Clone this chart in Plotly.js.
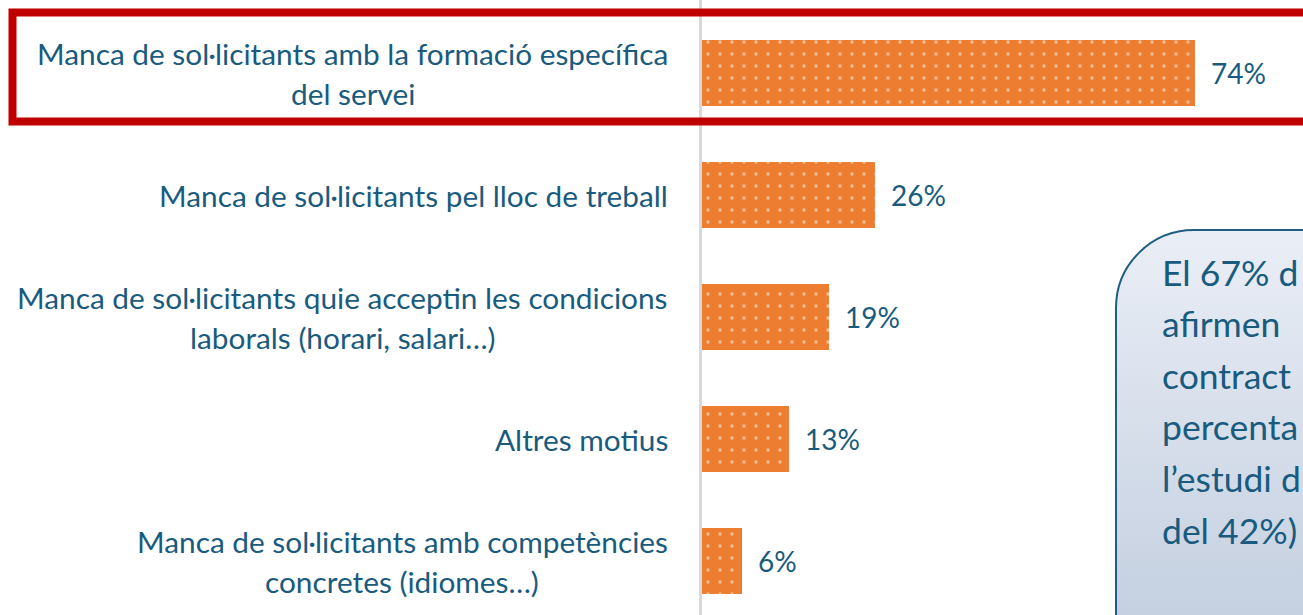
<!DOCTYPE html>
<html>
<head>
<meta charset="utf-8">
<script src="https://cdn.plot.ly/plotly-3.0.1.min.js"></script>
<style>
html,body{margin:0;padding:0;background:#fff;}
#chart{width:1303px;height:615px;}
</style>
</head>
<body>
<div id="chart"></div>
<script>
// ---- data ----
const categories = [
  "Manca de sol·licitants amb la formació específica<br>del servei",
  "Manca de sol·licitants pel lloc de treball",
  "Manca de sol·licitants quie acceptin les condicions<br>laborals (horari, salari…)",
  "Altres motius",
  "Manca de sol·licitants amb competències<br>concretes (idiomes…)"
];
const values = [74, 26, 19, 13, 6];
const valueLabels = ["74%", "26%", "19%", "13%", "6%"];
const calloutLines = ["El 67% d", "afirmen", "contract", "percenta", "l’estudi d", "del 42%)"];

// ---- style ----
const W = 1303, H = 615;
const axisPx = 702;          // plot left edge (x = 0)
const pxPerUnit = 6.66;      // px per percentage point
const catPx = 122;           // px per category
const firstCatPx = 73;       // centre of first bar
const TEXT = "#195B7E";
const FONT = "Lato, 'Open Sans', sans-serif";
const LABEL_SIZE = 29.8;
const VALUE_SIZE = 28;
const CALLOUT_SIZE = 35.5;

const px2paperX = p => (p - axisPx) / (W - axisPx);
const px2paperY = p => 1 - p / H;

const ctx = document.createElement('canvas').getContext('2d');
function textW(t, size) { ctx.font = size + "px Lato"; return ctx.measureText(t).width; }

const annotations = [];
// category labels (centred multi-line blocks, right aligned as a block)
categories.forEach((c, i) => {
  const lines = c.split('<br>');
  const widths = lines.map(l => textW(l, LABEL_SIZE));
  const maxW = Math.max(...widths);
  const n = lines.length;
  lines.forEach((l, k) => {
    annotations.push({
      text: l, xref: 'paper', yref: 'y',
      x: px2paperX(670), y: i, xanchor: 'right', yanchor: 'middle',
      xshift: -(maxW - widths[k]) / 2,
      yshift: ((n - 1) / 2 - k) * 40,
      showarrow: false,
      font: {family: FONT, size: LABEL_SIZE, color: TEXT}
    });
  });
});
// value labels
values.forEach((v, i) => {
  annotations.push({
    text: valueLabels[i], xref: 'x', yref: 'y', x: v, y: i,
    xanchor: 'left', yanchor: 'middle', xshift: 14, showarrow: false,
    font: {family: FONT, size: VALUE_SIZE, color: TEXT}
  });
});
// callout text
calloutLines.forEach((t, k) => {
  annotations.push({
    text: t, xref: 'paper', yref: 'paper',
    x: px2paperX(1160), y: px2paperY(272 + k * 51.6),
    xanchor: 'left', yanchor: 'middle', showarrow: false,
    font: {family: FONT, size: CALLOUT_SIZE, color: TEXT}
  });
});

// callout box path (rounded top-left corner)
const L = 1116, T = 230, R = 1330, B = 640, rad = 78, k = 0.5523;
const P = (x, y) => px2paperX(x).toFixed(5) + ',' + px2paperY(y).toFixed(5);
const calloutPath = 'M' + P(L, B) + ' L' + P(L, T + rad) +
  ' C' + P(L, T + rad * (1 - k)) + ' ' + P(L + rad * (1 - k), T) + ' ' + P(L + rad, T) +
  ' L' + P(R, T) + ' L' + P(R, B) + ' Z';

const shapes = [
  {type: 'path', xref: 'paper', yref: 'paper', path: calloutPath,
   fillcolor: '#D5DDEA', line: {color: '#1F5E80', width: 2}, layer: 'above'},
  {type: 'rect', xref: 'paper', yref: 'y',
   x0: px2paperX(12.5), x1: px2paperX(1330),
   y0: (12.5 - firstCatPx) / catPx, y1: (121.5 - firstCatPx) / catPx,
   line: {color: '#C00000', width: 8}, fillcolor: 'rgba(0,0,0,0)', layer: 'above'}
];

const trace = {
  type: 'bar', orientation: 'h',
  x: values, y: categories.map((c, i) => i),
  width: 0.535,
  marker: {
    color: '#ED7D31',
    line: {width: 0},
    pattern: {shape: '.', fgcolor: '#FFFFFF', bgcolor: '#ED7D31', size: 12, solidity: 0.06, fillmode: 'overlay'}
  },
  hoverinfo: 'skip'
};

const layout = {
  width: W, height: H,
  margin: {l: axisPx, r: 0, t: 0, b: 0, pad: 0},
  paper_bgcolor: '#FFFFFF', plot_bgcolor: '#FFFFFF',
  showlegend: false,
  bargap: 0,
  xaxis: {range: [0, (W - axisPx) / pxPerUnit], showgrid: false, zeroline: false,
          showticklabels: false, ticks: '', showline: false, fixedrange: true},
  yaxis: {range: [(H - firstCatPx) / catPx, -firstCatPx / catPx], showgrid: false,
          zeroline: false, showticklabels: false, ticks: '', showline: true,
          linecolor: '#D9D9D9', linewidth: 3, fixedrange: true},
  annotations: annotations,
  shapes: shapes
};

const gd = document.getElementById('chart');
Plotly.newPlot(gd, [trace], layout, {displayModeBar: false, staticPlot: true}).then(() => {
  const svgNS = 'http://www.w3.org/2000/svg';
  const defs = gd.querySelector('svg.main-svg defs');
  const g = document.createElementNS(svgNS, 'linearGradient');
  g.setAttribute('id', 'calloutGrad');
  g.setAttribute('x1', '0'); g.setAttribute('y1', '0');
  g.setAttribute('x2', '0'); g.setAttribute('y2', '1');
  [['0', '#EAEEF6'], ['1', '#C2CEDF']].forEach(([o, c]) => {
    const s = document.createElementNS(svgNS, 'stop');
    s.setAttribute('offset', o); s.setAttribute('stop-color', c);
    g.appendChild(s);
  });
  if (defs) defs.appendChild(g);
  const paths = gd.querySelectorAll('.shapelayer path');
  if (paths.length) { paths[0].style.fill = 'url(#calloutGrad)'; paths[0].style.fillOpacity = 1; }
});
</script>
</body>
</html>
